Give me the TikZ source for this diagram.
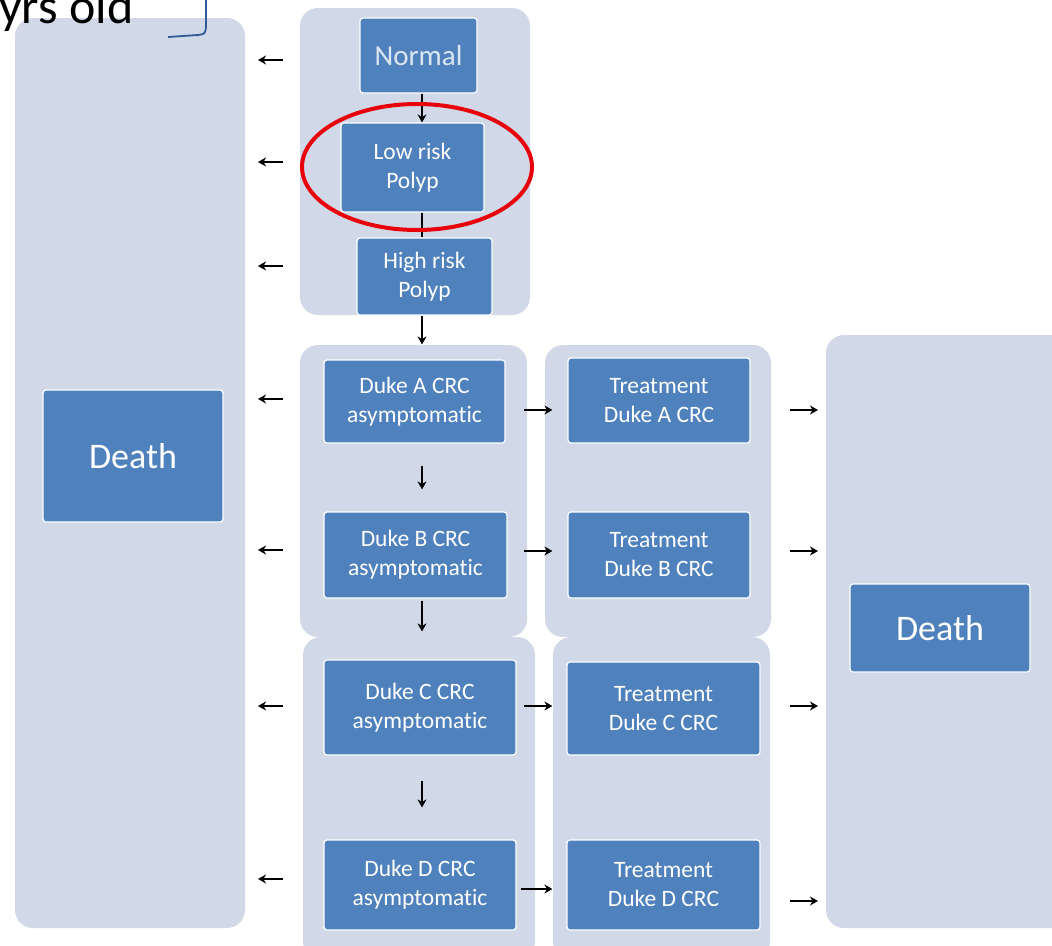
\documentclass[tikz,border=0pt]{standalone}
\usepackage{fontspec}
\setmainfont{Carlito}[Ligatures=NoCommon]
\usetikzlibrary{arrows.meta,positioning,calc}
\definecolor{panelgrey}{HTML}{D1D8E8}
\definecolor{boxblue}{HTML}{4F81BD}
\definecolor{markred}{HTML}{E8000B}
\definecolor{linkblue}{HTML}{2E5A96}
\definecolor{glowtext}{HTML}{DCE6F2}

\begin{document}
\begin{tikzpicture}[x=1pt,y=-1pt,
  panel/.style={fill=panelgrey,rounded corners=18pt},
  state/.style={rectangle,fill=boxblue,draw=white,line width=1.2pt,rounded corners=3pt,
    text=white,align=center,inner sep=0pt,font=\fontsize{23.5}{29}\selectfont},
  bigstate/.style={state,font=\fontsize{36}{40}\selectfont},
  size/.style 2 args={minimum width=#1pt,minimum height=#2pt},
  arr/.style={-{Stealth[length=8pt,width=9pt]},line width=1.8pt}]
\useasboundingbox (0,0) rectangle (1052,945);
% panels
\fill[panel] (15,18) rectangle (245,928);
\fill[panel] (300,8) rectangle (530,315);
\fill[panel] (300,345) rectangle (527,637);
\fill[panel] (545,345) rectangle (771,637);
\fill[panel] (303,637) rectangle (535,960);
\fill[panel] (553,637) rectangle (770,960);
\fill[panel] (826,335) rectangle (1075,928);
% caption fragment
\node[anchor=base east,font=\fontsize{50}{54}\selectfont] (yrs) at (137,23) {yrs old};
\draw[linkblue,line width=1.8pt] (168,37) -- (198,35) .. controls (205,34) .. (206,27) -- (206,-2);
% states
\node[state,size={117}{75},text=glowtext,font=\fontsize{29}{32}\selectfont] (normal) at (418.5,55.5) {Normal};
\node[state,size={143}{89}] (lowrisk) at (412.5,167.5) {Low risk\\Polyp};
\node[state,size={135}{77}] (highrisk) at (424.5,276.5) {High risk\\Polyp};
\node[state,size={181}{83}] (dukeA) at (414.5,401.5) {Duke A CRC\\asymptomatic};
\node[state,size={183}{86}] (dukeB) at (415.5,555) {Duke B CRC\\asymptomatic};
\node[state,size={192}{95}] (dukeC) at (420,707.5) {Duke C CRC\\asymptomatic};
\node[state,size={192}{90}] (dukeD) at (420,885) {Duke D CRC\\asymptomatic};
\node[state,size={182}{85}] (treatA) at (659,400.5) {Treatment\\Duke A CRC};
\node[state,size={182}{86}] (treatB) at (659,555) {Treatment\\Duke B CRC};
\node[state,size={193}{93}] (treatC) at (663.5,708.5) {Treatment\\Duke C CRC};
\node[state,size={193}{90}] (treatD) at (663.5,885) {Treatment\\Duke D CRC};
\node[bigstate,size={180}{132}] (deathL) at (133,456) {Death};
\node[bigstate,size={180}{88}] (deathR) at (940,628) {Death};
% progression
\coordinate (spine) at (422,0);
\draw[arr] (normal.south -| spine) -- (lowrisk.north -| spine);
\draw[line width=1.8pt] (lowrisk.south -| spine) -- (highrisk.north -| spine);
\draw[arr,shorten >=15pt] (highrisk.south -| spine) -- (dukeA.north -| spine);
\draw[arr,shorten <=22pt,shorten >=22pt] (dukeA.south -| spine) -- (dukeB.north -| spine);
\draw[arr,shorten <=2pt,shorten >=28pt] (dukeB.south -| spine) -- (dukeC.north -| spine);
\draw[arr,shorten <=25pt,shorten >=32pt] (dukeC.south -| spine) -- (dukeD.north -| spine);
% treatment
\draw[arr,shorten <=18pt,shorten >=15pt] ([yshift=-8.5pt]dukeA.east) -- ([yshift=-8.5pt]dukeA.east -| treatA.west);
\draw[arr,shorten <=16pt,shorten >=15pt] ([yshift=4pt]dukeB.east) -- ([yshift=4pt]dukeB.east -| treatB.west);
\draw[arr,shorten <=7pt,shorten >=14pt] ([yshift=1.5pt]dukeC.east) -- ([yshift=1.5pt]dukeC.east -| treatC.west);
\draw[arr,shorten <=4pt,shorten >=14pt] ([yshift=-4pt]dukeD.east) -- ([yshift=-4pt]dukeD.east -| treatD.west);
% to death
\foreach \y [count=\i] in {60,162,266,399,550,706,879} {
  \coordinate (lout\i) at (283,\y);
  \coordinate (lin\i) at (258,\y);
  \draw[arr] (lout\i) -- (lin\i);
}
\foreach \y [count=\i] in {410,551,706,901} {
  \coordinate (rout\i) at (790,\y);
  \coordinate (rin\i) at (818,\y);
  \draw[arr] (rout\i) -- (rin\i);
}
% highlight
\draw[markred,line width=4pt] (417,167) ellipse [x radius=115pt,y radius=63pt];
\end{tikzpicture}
\end{document}
